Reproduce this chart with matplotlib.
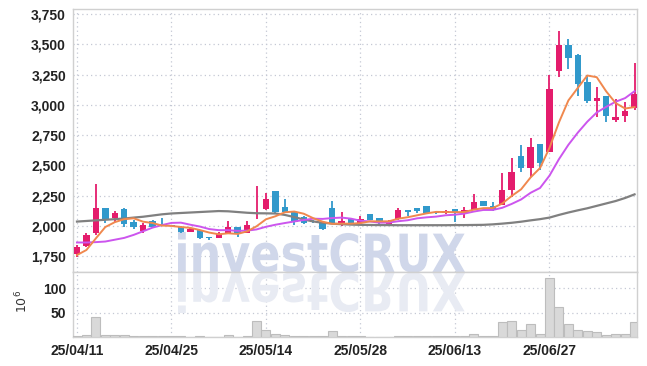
import numpy as np
import matplotlib
matplotlib.use("Agg")
import matplotlib.pyplot as plt
from matplotlib.textpath import TextPath
from matplotlib.font_manager import FontProperties
from matplotlib.patches import PathPatch
from matplotlib.transforms import Affine2D, IdentityTransform

plt.rcParams['font.family'] = ['Liberation Sans', 'DejaVu Sans']
label_font = FontProperties(family=['Liberation Sans', 'DejaVu Sans'], weight='bold', size=10)

# trading days (yy/mm/dd)
dates = ['25/04/11', '25/04/14', '25/04/15', '25/04/16', '25/04/17', '25/04/18',
         '25/04/21', '25/04/22', '25/04/23', '25/04/24', '25/04/25',
         '25/04/28', '25/04/29', '25/04/30', '25/05/02', '25/05/07', '25/05/08',
         '25/05/09', '25/05/12', '25/05/13', '25/05/14',
         '25/05/15', '25/05/16', '25/05/19', '25/05/20', '25/05/21', '25/05/22',
         '25/05/23', '25/05/26', '25/05/27', '25/05/28',
         '25/05/29', '25/05/30', '25/06/02', '25/06/04', '25/06/05', '25/06/09',
         '25/06/10', '25/06/11', '25/06/12', '25/06/13',
         '25/06/16', '25/06/17', '25/06/18', '25/06/19', '25/06/20', '25/06/23',
         '25/06/24', '25/06/25', '25/06/26', '25/06/27',
         '25/06/30', '25/07/01', '25/07/02', '25/07/03', '25/07/04', '25/07/07',
         '25/07/08', '25/07/09', '25/07/10']

opens = [1767, 1833, 1943, 2149, 2067, 2139, 2034, 1957, 2039, 2010,
         2003, 1992, 1951, 1965, 1900, 1901, 1938, 1987, 1943, 2095,
         2139, 2288, 2155, 2116, 2070, 2036, 2020, 2144, 2020, 2053,
         2025, 2095, 2062, 2015, 2053, 2130, 2144, 2163, 2106, 2108,
         2139, 2108, 2130, 2205, 2163, 2172, 2296, 2577, 2480, 2676,
         2613, 3282, 3495, 3412, 3191, 3034, 3073, 2875, 2910, 2971]
highs = [1841, 1938, 2343, 2149, 2122, 2147, 2050, 2025, 2045, 2067,
         2010, 1995, 1980, 1968, 1909, 1952, 2039, 1990, 2042, 2330,
         2269, 2288, 2219, 2120, 2078, 2045, 2022, 2207, 2116, 2058,
         2078, 2098, 2065, 2048, 2144, 2132, 2146, 2165, 2125, 2130,
         2141, 2155, 2260, 2207, 2196, 2434, 2558, 2668, 2723, 2680,
         3247, 3611, 3545, 3420, 3247, 3150, 3076, 3048, 3026, 3343]
lows = [1742, 1822, 1924, 2025, 2034, 1992, 1973, 1943, 1985, 2000,
        1995, 1943, 1945, 1893, 1880, 1898, 1935, 1909, 1940, 2060,
        2130, 2103, 2105, 2006, 2015, 2025, 1968, 2018, 2001, 2015,
        2020, 2045, 2015, 2010, 2050, 2081, 2105, 2100, 2095, 2100,
        2034, 2062, 2128, 2160, 2125, 2170, 2238, 2447, 2406, 2461,
        2610, 3228, 3294, 3076, 3013, 2902, 2861, 2861, 2861, 2957]
closes = [1824, 1924, 2149, 2048, 2108, 2015, 1992, 2006, 1992, 2003,
          2000, 1951, 1971, 1901, 1896, 1932, 1992, 1943, 2006, 2108,
          2221, 2116, 2111, 2034, 2020, 2034, 1973, 2020, 2042, 2020,
          2053, 2048, 2020, 2042, 2130, 2116, 2125, 2103, 2103, 2125,
          2111, 2130, 2199, 2163, 2130, 2296, 2445, 2475, 2654, 2522,
          3131, 3495, 3385, 3172, 3034, 3059, 2910, 2900, 2949, 3090]

# volume, millions of shares
volumes = [1.5, 4, 40.5, 4, 3.5, 4, 2, 2, 2, 2,
           2, 2, 1, 2, 0.8, 0.8, 3.5, 1, 2, 33,
           14.4, 6, 4, 2, 2, 2, 2, 11.7, 1.5, 1.2,
           1.2, 0.8, 1, 1, 2.8, 1.5, 1.5, 1.5, 1.5, 1.8,
           2, 2, 5.5, 1.5, 1.5, 30, 32, 15, 26, 7,
           121, 61, 26, 14.4, 12, 9.7, 5, 7, 6, 30]

# moving averages as drawn on the chart
ma5 = [1758, 1800, 1896, 1990, 2030, 2055, 2062, 2034, 2023, 2002,
       1999, 1990, 1983, 1965, 1944, 1930, 1938, 1933, 1954, 1996,
       2054, 2079, 2112, 2118, 2100, 2063, 2034, 2016, 2018, 2018,
       2022, 2037, 2037, 2037, 2059, 2071, 2087, 2103, 2115, 2114,
       2113, 2114, 2134, 2146, 2147, 2184, 2247, 2302, 2400, 2478,
       2645, 2855, 3037, 3141, 3243, 3229, 3112, 3015, 2970, 2982]
ma10 = [1862, 1862, 1865, 1870, 1885, 1900, 1925, 1955, 1985, 2006,
        2024, 2026, 2009, 1994, 1973, 1964, 1964, 1958, 1960, 1970,
        1992, 2009, 2023, 2036, 2048, 2059, 2057, 2064, 2068, 2059,
        2042, 2036, 2026, 2027, 2038, 2046, 2062, 2070, 2076, 2087,
        2092, 2101, 2118, 2131, 2131, 2149, 2181, 2218, 2273, 2313,
        2415, 2551, 2670, 2771, 2861, 2937, 2984, 3026, 3056, 3113]
ma60 = [2035, 2040, 2045, 2050, 2055, 2060, 2068, 2075, 2085, 2095,
        2102, 2106, 2110, 2114, 2118, 2122, 2120, 2114, 2108, 2104,
        2103, 2102, 2090, 2072, 2052, 2036, 2025, 2018, 2013, 2010,
        2008, 2007, 2006, 2006, 2005, 2005, 2005, 2005, 2005, 2005,
        2006, 2006, 2007, 2008, 2012, 2018, 2025, 2034, 2045, 2055,
        2068, 2090, 2110, 2128, 2145, 2165, 2185, 2205, 2230, 2260]

price_ticks = [1750, 2000, 2250, 2500, 2750, 3000, 3250, 3500, 3750]
vol_ticks = [50, 100]
x_tick_every = 10

UP = '#e41c6c'
DOWN = '#3199cb'
GRID = '#c4c8d4'
SPINE = '#d0d0d0'

W, H = 647, 366
fig = plt.figure(figsize=(W / 100, H / 100), dpi=100)
ax = fig.add_axes([73 / W, (H - 272) / H, (637 - 73) / W, (272 - 9) / H])
axv = fig.add_axes([73 / W, (H - 337) / H, (637 - 73) / W, (337 - 272) / H], sharex=ax)

x = np.arange(len(dates))
o = np.array(opens); c = np.array(closes)
colors = [UP if cc >= oo else DOWN for oo, cc in zip(o, c)]
bottoms = np.minimum(o, c)
heights = np.maximum(np.abs(c - o), 8)

# candles: wicks + bodies
ax.vlines(x, lows, highs, colors=colors, linewidth=1.3, zorder=3)
ax.bar(x, heights, bottom=bottoms, width=0.68, color=colors, zorder=4)

# moving averages
ax.plot(x, ma60, color='#808080', lw=1.6, zorder=5)
ax.plot(x, ma10, color='#cc55ee', lw=1.4, zorder=5)
ax.plot(x, ma5, color='#f0884e', lw=1.4, zorder=6)

axv.bar(x, volumes, width=0.95, color='#d9d9d9', edgecolor='#bdbdbd', linewidth=0.8, zorder=3)

ax.set_xlim(-0.42, 59.26)
ax.set_ylim(1618, 3793)
axv.set_ylim(0, 133)

xt = x[::x_tick_every]
ax.set_xticks(xt)
axv.set_xticks(xt)
axv.set_xticklabels([dates[i] for i in xt])
ax.tick_params(axis='x', labelbottom=False)

ax.set_yticks(price_ticks)
ax.set_yticklabels([f"{v:,}" for v in price_ticks])
axv.set_yticks(vol_ticks)
axv.set_yticklabels([str(v) for v in vol_ticks])

for a in (ax, axv):
    a.set_axisbelow(True)
    a.grid(True, color=GRID, linestyle=(0, (1, 2.5)), linewidth=0.9)
    a.tick_params(length=0, pad=5, colors='#222222')
    for lab in a.get_xticklabels() + a.get_yticklabels():
        lab.set_fontproperties(label_font)
    for s in a.spines.values():
        s.set_color(SPINE)
        s.set_linewidth(1)

axv.set_ylabel(r'$10^6$', fontsize=9, color='#333333')
axv.yaxis.set_label_coords(-0.075, 0.55)

# watermark + reflection
tp = TextPath((0, 0), "investCRUX", size=100,
              prop=FontProperties(family='DejaVu Sans', weight='bold'))
ext = tp.get_extents()
sx = (465 - 178) / ext.width
sy = (134 - 94) / ext.y1
main_tr = Affine2D().translate(-ext.x0, 0).scale(sx, sy).translate(178, 94)
refl_tr = Affine2D().translate(-ext.x0, 0).scale(sx, -sy).translate(178, 93)
wm = PathPatch(main_tr.transform_path(tp), transform=IdentityTransform(),
               facecolor='#d0d7ea', edgecolor='none', zorder=1, clip_on=False)
ax.add_artist(wm)
wr = PathPatch(refl_tr.transform_path(tp), transform=IdentityTransform(),
               facecolor='#e8ebf3', edgecolor='none', zorder=1, clip_on=False)
axv.add_artist(wr)

fig.savefig('out.png', dpi=100)
